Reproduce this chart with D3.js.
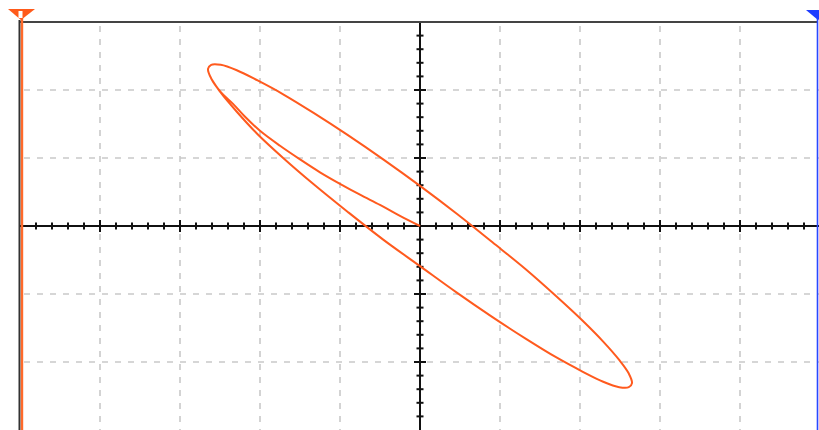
<!DOCTYPE html>
<html>
<head>
<meta charset="utf-8">
<script src="https://cdn.jsdelivr.net/npm/d3@7"></script>
<style>
  html, body { margin: 0; padding: 0; background: #ffffff; }
  svg { display: block; }
</style>
</head>
<body>
<svg id="chart" width="819" height="430"></svg>
<script>
// ---- data (in screen divisions) ----
// start-up transient: trace leaves the origin toward the upper-left tip
const transientX = [0, -0.25, -0.5, -0.75, -1.0, -1.25, -1.5, -1.75, -2.0, -2.19, -2.34];
const transientY = [0, 0.15, 0.31, 0.46, 0.62, 0.79, 0.98, 1.18, 1.40, 1.61, 1.80];
// steady-state Lissajous loop (XY mode)
const loopX = [-2.49, -2.61, -2.65, -2.61, -2.49, -2.29, -2.03, -1.70, -1.325, -0.906, -0.46, 0,
               0.46, 0.906, 1.325, 1.70, 2.03, 2.29, 2.49, 2.61, 2.65, 2.61, 2.49, 2.29,
               2.03, 1.70, 1.325, 0.906, 0.46, 0, -0.46, -0.906, -1.325, -1.70, -2.03, -2.29,
               -2.49, -2.61];
const loopY = [1.97, 2.17, 2.31, 2.37, 2.37, 2.29, 2.14, 1.93, 1.66, 1.34, 0.98, 0.59,
               0.18, -0.24, -0.64, -1.03, -1.39, -1.70, -1.97, -2.17, -2.31, -2.37, -2.37, -2.29,
               -2.14, -1.93, -1.66, -1.34, -0.98, -0.59, -0.20, 0.21, 0.61, 0.99, 1.35, 1.68,
               1.96, 2.17];
// graticule
const xDivisions = [-4, -3, -2, -1, 1, 2, 3, 4];
const yDivisions = [-2, -1, 1, 2];

// ---- layout ----
const svg = d3.select("#chart");
const x = d3.scaleLinear().domain([-5, 5]).range([20, 820]);
const y = d3.scaleLinear().domain([-3, 3]).range([430, 22]);

// dashed grid
const grid = svg.append("g").attr("stroke", "#c9c9c9").attr("stroke-width", 1.6)
  .attr("stroke-dasharray", "6,7");
grid.selectAll("line.v").data(xDivisions).join("line")
  .attr("x1", d => x(d)).attr("x2", d => x(d))
  .attr("y1", y(3) + 4).attr("y2", 430);
grid.selectAll("line.h").data(yDivisions).join("line")
  .attr("y1", d => y(d)).attr("y2", d => y(d))
  .attr("x1", x(-5) + 4).attr("x2", 819);

// center axes with ticks
const axes = svg.append("g").attr("stroke", "#111").attr("fill", "none");
axes.append("line").attr("x1", x(-5)).attr("x2", 819).attr("y1", y(0)).attr("y2", y(0))
  .attr("stroke-width", 2);
axes.append("line").attr("x1", x(0)).attr("x2", x(0)).attr("y1", y(3)).attr("y2", 430)
  .attr("stroke-width", 2);
const xt = d3.range(-25, 26).map(i => i / 5).filter(v => v !== 0 && v > -5);
const yt = d3.range(-15, 16).map(i => i / 5).filter(v => v !== 0 && v > -3 && v < 3);
const isMajor = v => Math.abs(v - Math.round(v)) < 1e-9;
axes.selectAll("line.xt").data(xt).join("line")
  .attr("x1", d => x(d)).attr("x2", d => x(d))
  .attr("y1", d => y(0) - (isMajor(d) ? 6 : 3.5))
  .attr("y2", d => y(0) + (isMajor(d) ? 6 : 3.5))
  .attr("stroke-width", 2);
axes.selectAll("line.yt").data(yt).join("line")
  .attr("y1", d => y(d)).attr("y2", d => y(d))
  .attr("x1", d => x(0) - (isMajor(d) ? 6 : 3.5))
  .attr("x2", d => x(0) + (isMajor(d) ? 6 : 3.5))
  .attr("stroke-width", 2);

// frame
svg.append("line").attr("x1", 20).attr("x2", 818).attr("y1", 22).attr("y2", 22)
  .attr("stroke", "#444").attr("stroke-width", 2.2);
svg.append("line").attr("x1", 19.5).attr("x2", 19.5).attr("y1", 20).attr("y2", 430)
  .attr("stroke", "#333").attr("stroke-width", 2);
svg.append("line").attr("x1", 22).attr("x2", 22).attr("y1", 14).attr("y2", 430)
  .attr("stroke", "#ff6a2a").attr("stroke-width", 2.4);
svg.append("line").attr("x1", 817.5).attr("x2", 817.5).attr("y1", 14).attr("y2", 430)
  .attr("stroke", "#2a48ff").attr("stroke-width", 1.6);

// channel markers
svg.append("path").attr("d", "M8,9 L35,9 L21,20 Z").attr("fill", "#ff5a1a");
svg.append("rect").attr("x", 18.5).attr("y", 11).attr("width", 4).attr("height", 7).attr("fill", "#fff");
svg.append("path").attr("d", "M806,10 L830,10 L818,20 Z").attr("fill", "#1f3cff");

// trace
const pts = transientX.map((v, i) => [v, transientY[i]])
  .concat(loopX.map((v, i) => [v, loopY[i]]));
const line = d3.line().x(d => x(d[0])).y(d => y(d[1])).curve(d3.curveCatmullRom.alpha(0.5));
svg.append("path").datum(pts).attr("d", line)
  .attr("fill", "none").attr("stroke", "#ff5a1e").attr("stroke-width", 2)
  .attr("stroke-linejoin", "round");
</script>
</body>
</html>
